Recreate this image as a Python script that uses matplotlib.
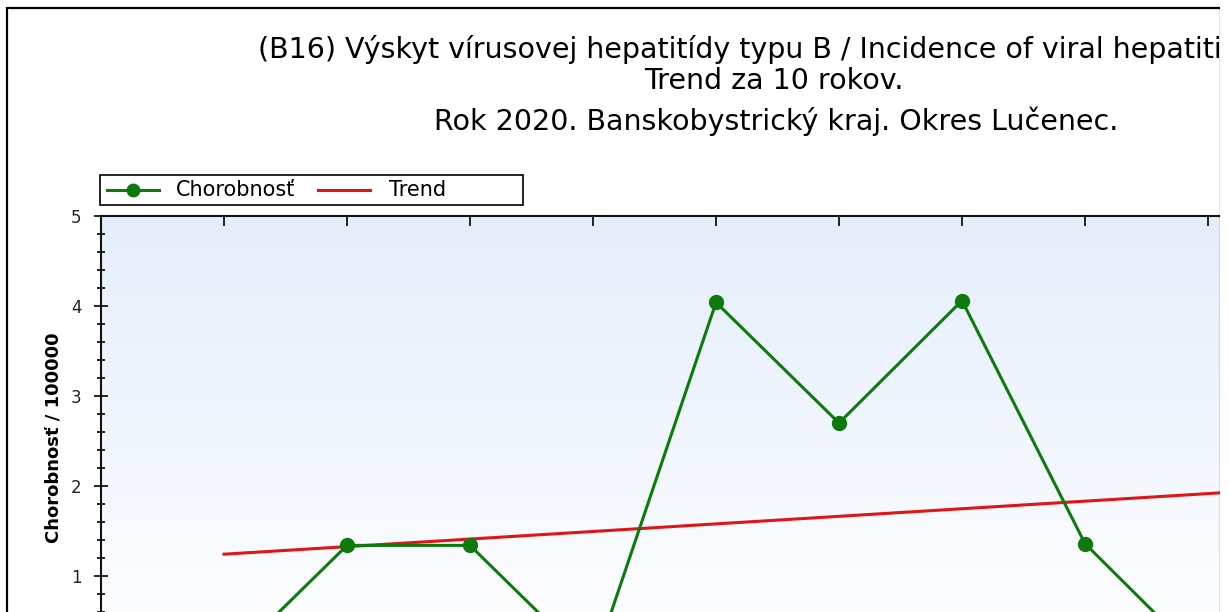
import numpy as np
import matplotlib
matplotlib.use("Agg")
import matplotlib.pyplot as plt
from matplotlib.patches import Rectangle
from matplotlib.lines import Line2D
from matplotlib.ticker import MultipleLocator

# data
years = [2011, 2012, 2013, 2014, 2015, 2016, 2017, 2018, 2019, 2020]
incidence = [0.0, 1.34, 1.34, 0.0, 4.04, 2.70, 4.06, 1.36, 0.0, 1.37]

title1 = "(B16) Výskyt vírusovej hepatitídy typu B / Incidence of viral hepatitis type B"
title2 = "Trend za 10 rokov."
title3 = "Rok 2020. Banskobystrický kraj. Okres Lučenec."
ylabel = "Chorobnosť / 100000"
legend_labels = ["Chorobnosť", "Trend"]

W, H = 1229, 612
FONT = "DejaVu Sans"
GREEN = "#0e7a0e"
RED = "#e01515"


def fx(px):
    return px / W


def fy(py):
    return 1 - py / H


fig = plt.figure(figsize=(W / 100, H / 100), dpi=100)
fig.patch.set_facecolor("white")

# outer frame of the original chart (cut off at right / bottom)
fig.add_artist(Rectangle((fx(7), fy(700)), fx(1221 - 7), (700 - 8) / H,
                         transform=fig.transFigure, fill=False,
                         edgecolor="black", linewidth=1.6, zorder=1))

# plot area: x 2010..2021, y 0..5 (123 px per year, 90 px per unit)
left, top = 101, 216
ax = fig.add_axes([fx(left), fy(top + 450), fx(11 * 123), 450 / H])
ax.set_xlim(2010, 2021)
ax.set_ylim(0, 5)

# light blue gradient background
grad = np.linspace(0, 1, 256).reshape(-1, 1)
cmap = matplotlib.colors.LinearSegmentedColormap.from_list(
    "bg", ["#ffffff", "#e4eefb"])
ax.imshow(grad, cmap=cmap, origin="lower", aspect="auto",
          extent=(2010, 2021, 0, 5), zorder=0)

ax.plot(years, incidence, color=GREEN, linewidth=2.2, marker="o",
        markersize=10, zorder=3)

k, q = np.polyfit(years, incidence, 1)
trend = [k * y + q for y in years]
ax.plot(years, trend, color=RED, linewidth=2.2, zorder=2)

for s in ax.spines.values():
    s.set_linewidth(1.5)
    s.set_color("#111111")

ax.yaxis.set_major_locator(MultipleLocator(1))
ax.yaxis.set_minor_locator(MultipleLocator(0.2))
ax.set_xticks(years)
ax.tick_params(axis="y", which="major", direction="inout", length=10,
               width=1.2, labelsize=12, pad=9)
ax.tick_params(axis="y", which="minor", direction="inout", length=6,
               width=1.2)
ax.tick_params(axis="x", which="major", direction="in", length=7,
               width=1.2, top=True, bottom=True, labelbottom=False)
for lab in ax.get_yticklabels():
    lab.set_family(FONT)
    lab.set_color("#222222")

# titles
fig.text(fx(258), fy(58), title1, ha="left", va="baseline",
         fontsize=20.5, family=FONT)
fig.text(fx(774), fy(89), title2, ha="center", va="baseline",
         fontsize=20.5, family=FONT)
fig.text(fx(776), fy(130), title3, ha="center", va="baseline",
         fontsize=20.5, family=FONT)

fig.text(fx(54), fy(438), ylabel, rotation=90, ha="center", va="center",
         fontsize=13, fontweight="bold", family=FONT)

# legend
fig.add_artist(Rectangle((fx(100), fy(205)), fx(423), 30 / H,
                         transform=fig.transFigure, facecolor="white",
                         edgecolor="black", linewidth=1.2, zorder=4))
fig.add_artist(Line2D([fx(107), fx(159)], [fy(190), fy(190)],
                      transform=fig.transFigure, color=GREEN, linewidth=2.2,
                      zorder=5))
fig.add_artist(Line2D([fx(133)], [fy(190)], transform=fig.transFigure,
                      color=GREEN, marker="o", markersize=9, zorder=5))
fig.add_artist(Line2D([fx(318), fx(370)], [fy(190), fy(190)],
                      transform=fig.transFigure, color=RED, linewidth=2.2,
                      zorder=5))
fig.text(fx(176), fy(190), legend_labels[0], ha="left", va="center",
         fontsize=15, family=FONT, zorder=5)
fig.text(fx(389), fy(190), legend_labels[1], ha="left", va="center",
         fontsize=15, family=FONT, zorder=5)

# screenshot is cut at the right edge
fig.add_artist(Rectangle((fx(1220), 0), fx(W - 1220), 1,
                         transform=fig.transFigure, facecolor="white",
                         edgecolor="none", zorder=10))

fig.savefig("out.png", dpi=100)
